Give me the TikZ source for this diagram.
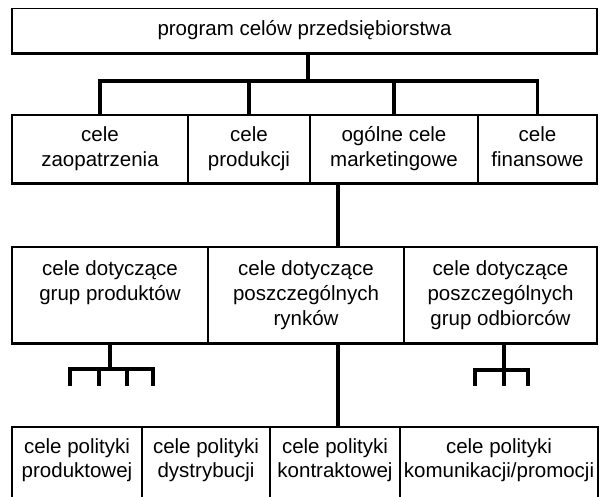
\documentclass[tikz,border=0pt]{standalone}
\usepackage{fontspec}
\setmainfont{Liberation Sans}
\begin{document}
\begin{tikzpicture}[x=1pt,y=-1pt,
  box/.style={draw, line width=1.5pt, inner sep=0pt, align=center,
    font=\fontsize{20.5}{25}\selectfont},
  lbl/.style={inner sep=0pt, align=center, font=\fontsize{20.5}{24}\selectfont},
  conn/.style={line width=3.8pt, line cap=butt, line join=miter},
  base/.style={line width=2.8pt}]
\useasboundingbox (0,0) rectangle (602,496);
\clip (0,0) rectangle (602,496);
% top
\node[box, minimum width=585pt, minimum height=44pt] (top) at (304.5,30.5) {\strut program celów przedsiębiorstwa};
% row 2
\node[box, minimum width=176pt, minimum height=68pt] (zaop) at (100,149) {\strut cele\\zaopatrzenia\strut};
\node[box, minimum width=122pt, minimum height=68pt] (prod) at (249,149) {\strut cele\\produkcji\strut};
\node[box, minimum width=168pt, minimum height=68pt] (mark) at (394,149) {\strut ogólne cele\\marketingowe\strut};
\node[box, minimum width=119pt, minimum height=68pt] (fin) at (537.5,149) {\strut cele\\finansowe\strut};
% row 3
\node[box, minimum width=196pt, minimum height=96pt] (grup) at (110,295) {\strut cele dotyczące\\grup produktów\\\strut};
\node[box, minimum width=196pt, minimum height=96pt] (rynk) at (306,295) {\strut cele dotyczące\\poszczególnych\\rynków\strut};
\node[box, minimum width=193pt, minimum height=96pt] (odb) at (500.5,295) {\strut cele dotyczące\\poszczególnych\\grup odbiorców\strut};
% row 4 (open at the bottom)
\node[box, minimum width=130pt, minimum height=113pt] (pprod) at (77,483.5) {};
\node[box, minimum width=128pt, minimum height=113pt] (pdys) at (206,483.5) {};
\node[box, minimum width=130pt, minimum height=113pt] (pkon) at (335,483.5) {};
\node[box, minimum width=198pt, minimum height=113pt] (pkom) at (499,483.5) {};
\node[lbl] (tprod) at (77,461) {\strut cele polityki\\produktowej\strut};
\node[lbl] (tdys) at (206,461) {\strut cele polityki\\dystrybucji\strut};
\node[lbl] (tkon) at (335,461) {\strut cele polityki\\kontraktowej\strut};
\node[lbl] (tkom) at (499,461) {\strut cele polityki\\komunikacji/promocji\strut};
% thicker bottom edges
\foreach \n in {top,zaop,prod,mark,fin,grup,rynk,odb}
  \draw[base] (\n.south west) -- (\n.south east);
% connectors level 1
\coordinate (j1) at (308,81);
\draw[conn] (top.south -| j1) -- (j1);
\draw[conn] (zaop.north) |- (j1) -| (fin.north);
\draw[conn] (prod.north) -- (prod.north |- j1);
\draw[conn] (mark.north) -- (mark.north |- j1);
% marketing trunk
\coordinate (t2) at (338,0);
\draw[conn] (mark.south -| t2) -- (rynk.north -| t2);
\draw[conn] (rynk.south -| t2) -- (pkon.north -| t2);
% left small tree
\coordinate (lj) at (110,369);
\coordinate (l1) at (70,386);
\coordinate (l2) at (99,386);
\coordinate (l3) at (127,386);
\coordinate (l4) at (153,386);
\draw[conn] (grup.south -| lj) -- (lj);
\draw[conn] (l1) |- (lj) -| (l4);
\draw[conn] (l2) -- (l2 |- lj);
\draw[conn] (l3) -- (l3 |- lj);
% right small tree
\coordinate (rj) at (504,370);
\coordinate (r1) at (475,386);
\coordinate (r2) at (504,386);
\coordinate (r3) at (528,386);
\draw[conn] (odb.south -| rj) -- (r2);
\draw[conn] (r1) |- (rj) -| (r3);
\end{tikzpicture}
\end{document}
